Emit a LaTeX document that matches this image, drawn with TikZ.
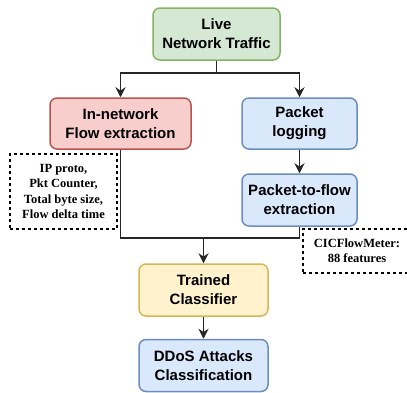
\documentclass[tikz,border=0pt]{standalone}
\usepackage{fontspec}
\usepackage{xcolor}
\usepackage{tikz}
\usetikzlibrary{positioning,arrows.meta}
\newfontfamily\boxfont{Liberation Sans}
\newfontfamily\notefont{Liberation Serif}

\definecolor{greenfill}{HTML}{D5E8D4}
\definecolor{greenline}{HTML}{82B366}
\definecolor{redfill}{HTML}{F8CECC}
\definecolor{redline}{HTML}{B85450}
\definecolor{bluefill}{HTML}{DAE8FC}
\definecolor{blueline}{HTML}{6C8EBF}
\definecolor{yellowfill}{HTML}{FFF2CC}
\definecolor{yellowline}{HTML}{D6B656}

\tikzset{
	stage/.style={draw, rectangle, rounded corners=7pt, line width=1.5pt, align=center, inner sep=0pt,
		minimum height=52pt, font=\boxfont\bfseries\fontsize{15}{19}\selectfont},
	note/.style={draw, rectangle, dashed, line width=1.1pt, align=center, inner sep=0pt,
		font=\notefont\bfseries\fontsize{12.5}{15.3}\selectfont},
	flow/.style={line width=1.7pt, draw=black!85}
}

\begin{document}
\begin{tikzpicture}[x=1pt, y=-1pt, >={Stealth[length=10pt,width=10pt]}]
		\useasboundingbox (0,0) rectangle (407,392);
		
		% Draw the source block
		\node (live) [stage, fill=greenfill, draw=greenline, minimum width=127pt] at (216.5,34) {Live\\Network Traffic};
		
		% Draw the two extraction paths
		\node (innet) [stage, fill=redfill, draw=redline, minimum width=141pt, minimum height=51pt] at (120.5,123.5) {In-network\\Flow extraction};
		\node (logging) [stage, fill=bluefill, draw=blueline, minimum width=115pt, minimum height=51pt, right of=innet, node distance=179pt] {Packet\\logging};
		\node (p2f) [stage, fill=bluefill, draw=blueline, minimum width=115pt, below of=logging, node distance=76.5pt] {Packet-to-flow\\extraction};
		
		% Draw the classifier blocks
		\node (trained) [stage, fill=yellowfill, draw=yellowline, minimum width=129pt] at (203.5,290) {Trained\\Classifier};
		\node (ddos) [stage, fill=bluefill, draw=blueline, minimum width=129pt, below of=trained, node distance=75.5pt] {DDoS Attacks\\Classification};
		
		% Draw the feature notes
		\node (innetnote) [note, minimum width=107pt, minimum height=75pt] at (63.5,191.5) {IP proto,\\Pkt Counter,\\Total byte size,\\Flow delta time};
		\node (cicnote) [note, minimum width=108pt, minimum height=44pt] at (357,251) {CICFlowMeter:\\88 features};
		
		% Connect the blocks with arrows
		\coordinate (merge) at (trained.north |- 0,238);
		\draw[flow, ->] (live.south) -- ++(0,12) -| (innet.north);
		\draw[flow, ->] (live.south) -- ++(0,12) -| (logging.north);
		\draw[flow, ->] (logging) -- (p2f);
		\draw[flow] (innet.south) |- (merge) -| (p2f.south);
		\draw[flow, ->] (merge) -- (trained);
		\draw[flow, ->] (trained) -- (ddos);
	\end{tikzpicture}
\end{document}
